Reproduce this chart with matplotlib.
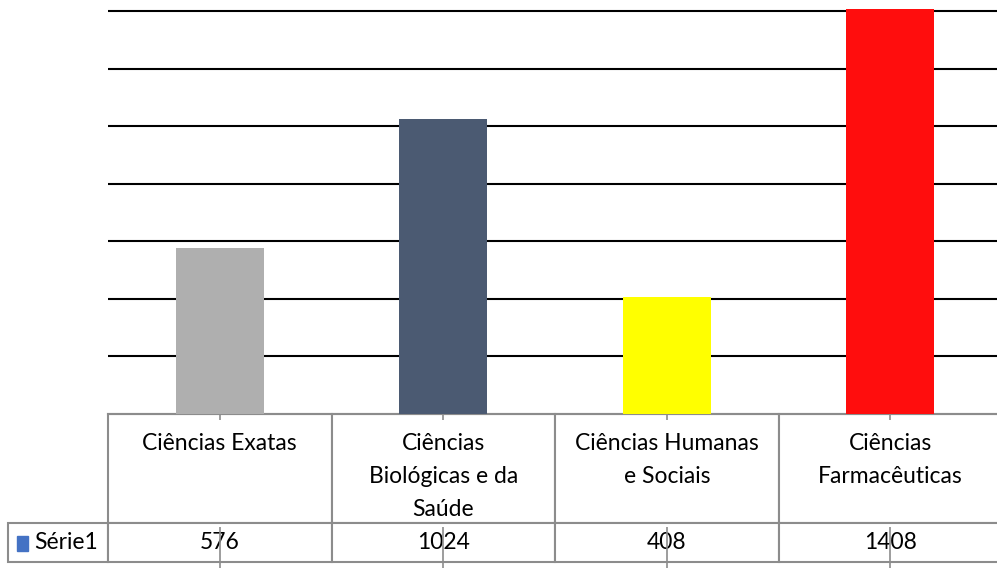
import matplotlib
matplotlib.use('Agg')
import matplotlib.pyplot as plt
from matplotlib.patches import Rectangle
from matplotlib.transforms import Affine2D

# dados
categorias = ['Ciências Exatas', 'Ciências Biológicas e da Saúde',
              'Ciências Humanas e Sociais', 'Ciências Farmacêuticas']
rotulos = ['Ciências Exatas\n\n', 'Ciências\nBiológicas e da\nSaúde',
           'Ciências Humanas\ne Sociais\n', 'Ciências\nFarmacêuticas\n']
valores = [576, 1024, 408, 1408]
serie = 'Série1'
cores = ['#AFAFAF', '#4B5A72', '#FFFF00', '#FF0D0D']
grade = [200, 400, 600, 800, 1000, 1200, 1400]

plt.rcParams['font.family'] = ['Lato', 'DejaVu Sans']

W, H = 997, 568
AX_W, AX_H = 894, 414  # tamanho do eixo em pixels
CINZA = '#8C8C8C'
fig = plt.figure(figsize=(W / 100, H / 100), dpi=100)
ax = fig.add_axes([108 / W, 1 - AX_H / H, AX_W / W, AX_H / H])

x = list(range(len(valores)))
ax.bar(x, valores, width=0.395, color=cores, zorder=3)
ax.set_xlim(-0.5, len(valores) - 0.5)
ax.set_ylim(0, 1439)

ax.set_yticks(grade)
ax.set_yticklabels([])
ax.tick_params(axis='y', length=0)
ax.grid(axis='y', color='black', lw=1.5, zorder=1)
ax.set_axisbelow(True)

ax.set_xticks(x)
ax.set_xticklabels([])
ax.tick_params(axis='x', direction='inout', length=9, width=1.2, color=CINZA)
for s in ['left', 'top', 'right']:
    ax.spines[s].set_visible(False)
ax.spines['bottom'].set_color(CINZA)
ax.spines['bottom'].set_linewidth(1.5)

# tabela de dados (tamanhos em coordenadas do eixo)
h_cab, h_val = 109 / AX_H, 39 / AX_H
w_rot = 100 / AX_W
tab = ax.table(cellText=[[str(v) for v in valores]], rowLabels=[serie],
               colLabels=rotulos, cellLoc='center', rowLoc='left',
               bbox=[0, -(h_cab + h_val), 1, h_cab + h_val])
tab._autoColumns = [c for c in tab._autoColumns if c != -1]  # largura fixa do rótulo
tab.auto_set_font_size(False)
tab.set_fontsize(16.5)
for (r, c), cell in tab.get_celld().items():
    cell.set_edgecolor(CINZA)
    cell.set_linewidth(1.5)
    cell.set_width(w_rot if c == -1 else 1 / len(valores))
    cell.set_height(h_cab if r == 0 else h_val)
    if r == 0:
        cell.get_text().set_linespacing(1.72)
        # texto do cabeçalho um pouco abaixo do centro, como no original
        cell.get_text().set_transform(Affine2D().translate(0, -8))
tab[1, -1].PAD = 0.26

# marca da série
ax.add_patch(Rectangle(((17 - 108) / AX_W, -(551 - 414) / AX_H), 11 / AX_W, 15 / AX_H,
                       transform=ax.transAxes, color='#4472C4', clip_on=False))
# traços dos ticks na linha de valores
ax.vlines(x, -(568 - 414) / AX_H, -(527 - 414) / AX_H, transform=ax.get_xaxis_transform(),
          color=CINZA, lw=1.2, clip_on=False)

fig.savefig('out.png', dpi=100, facecolor='white')
